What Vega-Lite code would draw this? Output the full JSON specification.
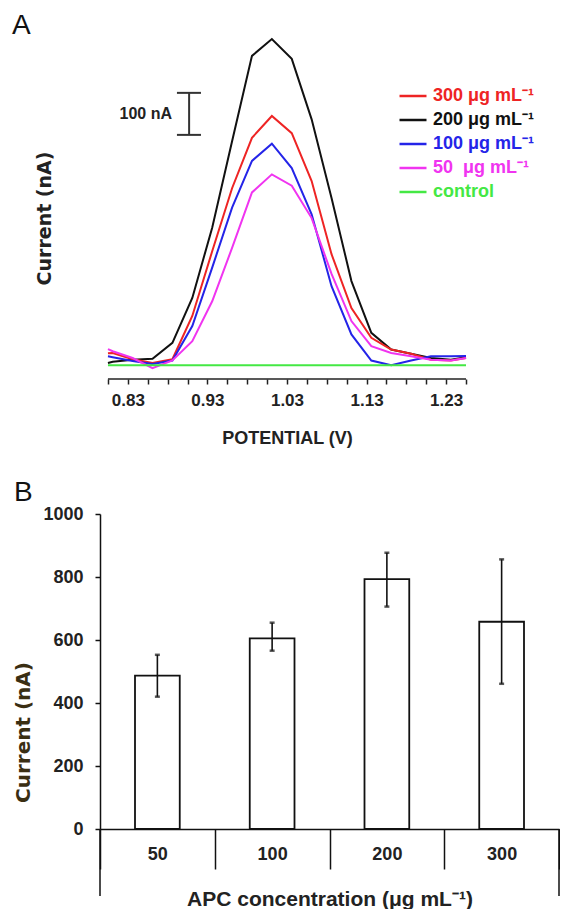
{
  "$schema": "https://vega.github.io/schema/vega-lite/v6.json",
  "background": "white",
  "padding": {"left": 12, "top": 12, "right": 0, "bottom": 0},
  "spacing": 32,
  "config": {
    "view": {"stroke": null},
    "font": "Liberation Sans",
    "axis": {"labelFont": "Liberation Sans", "titleFont": "Liberation Sans", "labelColor": "#222222", "titleColor": "#222222"}
  },
  "datasets": {
    "curves": [
      {"series": "200 μg mL⁻¹", "V": 0.805, "I": 5}, {"series": "200 μg mL⁻¹", "V": 0.811, "I": 8}, {"series": "200 μg mL⁻¹", "V": 0.836, "I": 13}, {"series": "200 μg mL⁻¹", "V": 0.861, "I": 15}, {"series": "200 μg mL⁻¹", "V": 0.886, "I": 53}, {"series": "200 μg mL⁻¹", "V": 0.911, "I": 160}, {"series": "200 μg mL⁻¹", "V": 0.936, "I": 327}, {"series": "200 μg mL⁻¹", "V": 0.961, "I": 533}, {"series": "200 μg mL⁻¹", "V": 0.986, "I": 736}, {"series": "200 μg mL⁻¹", "V": 1.011, "I": 776}, {"series": "200 μg mL⁻¹", "V": 1.036, "I": 729}, {"series": "200 μg mL⁻¹", "V": 1.061, "I": 585}, {"series": "200 μg mL⁻¹", "V": 1.086, "I": 398}, {"series": "200 μg mL⁻¹", "V": 1.111, "I": 200}, {"series": "200 μg mL⁻¹", "V": 1.136, "I": 77}, {"series": "200 μg mL⁻¹", "V": 1.161, "I": 37}, {"series": "200 μg mL⁻¹", "V": 1.186, "I": 27}, {"series": "200 μg mL⁻¹", "V": 1.211, "I": 17}, {"series": "200 μg mL⁻¹", "V": 1.236, "I": 13}, {"series": "200 μg mL⁻¹", "V": 1.255, "I": 19},
      {"series": "300 μg mL⁻¹", "V": 0.805, "I": 28}, {"series": "300 μg mL⁻¹", "V": 0.811, "I": 29}, {"series": "300 μg mL⁻¹", "V": 0.836, "I": 14}, {"series": "300 μg mL⁻¹", "V": 0.861, "I": 5}, {"series": "300 μg mL⁻¹", "V": 0.886, "I": 14}, {"series": "300 μg mL⁻¹", "V": 0.911, "I": 117}, {"series": "300 μg mL⁻¹", "V": 0.936, "I": 271}, {"series": "300 μg mL⁻¹", "V": 0.961, "I": 421}, {"series": "300 μg mL⁻¹", "V": 0.986, "I": 541}, {"series": "300 μg mL⁻¹", "V": 1.011, "I": 593}, {"series": "300 μg mL⁻¹", "V": 1.036, "I": 552}, {"series": "300 μg mL⁻¹", "V": 1.061, "I": 438}, {"series": "300 μg mL⁻¹", "V": 1.086, "I": 264}, {"series": "300 μg mL⁻¹", "V": 1.111, "I": 136}, {"series": "300 μg mL⁻¹", "V": 1.136, "I": 65}, {"series": "300 μg mL⁻¹", "V": 1.161, "I": 37}, {"series": "300 μg mL⁻¹", "V": 1.186, "I": 27}, {"series": "300 μg mL⁻¹", "V": 1.211, "I": 13}, {"series": "300 μg mL⁻¹", "V": 1.236, "I": 11}, {"series": "300 μg mL⁻¹", "V": 1.255, "I": 17},
      {"series": "100 μg mL⁻¹", "V": 0.805, "I": 21}, {"series": "100 μg mL⁻¹", "V": 0.811, "I": 19}, {"series": "100 μg mL⁻¹", "V": 0.836, "I": 10}, {"series": "100 μg mL⁻¹", "V": 0.861, "I": 3}, {"series": "100 μg mL⁻¹", "V": 0.886, "I": 11}, {"series": "100 μg mL⁻¹", "V": 0.911, "I": 93}, {"series": "100 μg mL⁻¹", "V": 0.936, "I": 232}, {"series": "100 μg mL⁻¹", "V": 0.961, "I": 375}, {"series": "100 μg mL⁻¹", "V": 0.986, "I": 486}, {"series": "100 μg mL⁻¹", "V": 1.011, "I": 527}, {"series": "100 μg mL⁻¹", "V": 1.036, "I": 469}, {"series": "100 μg mL⁻¹", "V": 1.061, "I": 359}, {"series": "100 μg mL⁻¹", "V": 1.086, "I": 188}, {"series": "100 μg mL⁻¹", "V": 1.111, "I": 73}, {"series": "100 μg mL⁻¹", "V": 1.136, "I": 11}, {"series": "100 μg mL⁻¹", "V": 1.161, "I": 0}, {"series": "100 μg mL⁻¹", "V": 1.186, "I": 11}, {"series": "100 μg mL⁻¹", "V": 1.211, "I": 21}, {"series": "100 μg mL⁻¹", "V": 1.236, "I": 21}, {"series": "100 μg mL⁻¹", "V": 1.255, "I": 22},
      {"series": "50\u00a0 μg mL⁻¹", "V": 0.805, "I": 38}, {"series": "50\u00a0 μg mL⁻¹", "V": 0.811, "I": 33}, {"series": "50\u00a0 μg mL⁻¹", "V": 0.836, "I": 17}, {"series": "50\u00a0 μg mL⁻¹", "V": 0.861, "I": -7}, {"series": "50\u00a0 μg mL⁻¹", "V": 0.886, "I": 11}, {"series": "50\u00a0 μg mL⁻¹", "V": 0.911, "I": 57}, {"series": "50\u00a0 μg mL⁻¹", "V": 0.936, "I": 152}, {"series": "50\u00a0 μg mL⁻¹", "V": 0.961, "I": 279}, {"series": "50\u00a0 μg mL⁻¹", "V": 0.986, "I": 411}, {"series": "50\u00a0 μg mL⁻¹", "V": 1.011, "I": 454}, {"series": "50\u00a0 μg mL⁻¹", "V": 1.036, "I": 427}, {"series": "50\u00a0 μg mL⁻¹", "V": 1.061, "I": 350}, {"series": "50\u00a0 μg mL⁻¹", "V": 1.086, "I": 217}, {"series": "50\u00a0 μg mL⁻¹", "V": 1.111, "I": 105}, {"series": "50\u00a0 μg mL⁻¹", "V": 1.136, "I": 45}, {"series": "50\u00a0 μg mL⁻¹", "V": 1.161, "I": 29}, {"series": "50\u00a0 μg mL⁻¹", "V": 1.186, "I": 21}, {"series": "50\u00a0 μg mL⁻¹", "V": 1.211, "I": 13}, {"series": "50\u00a0 μg mL⁻¹", "V": 1.236, "I": 11}, {"series": "50\u00a0 μg mL⁻¹", "V": 1.255, "I": 17},
      {"series": "control", "V": 0.805, "I": 0}, {"series": "control", "V": 0.811, "I": 0}, {"series": "control", "V": 0.836, "I": 0}, {"series": "control", "V": 0.861, "I": 0}, {"series": "control", "V": 0.886, "I": 0}, {"series": "control", "V": 0.911, "I": 0}, {"series": "control", "V": 0.936, "I": 0}, {"series": "control", "V": 0.961, "I": 0}, {"series": "control", "V": 0.986, "I": 0}, {"series": "control", "V": 1.011, "I": 0}, {"series": "control", "V": 1.036, "I": 0}, {"series": "control", "V": 1.061, "I": 0}, {"series": "control", "V": 1.086, "I": 0}, {"series": "control", "V": 1.111, "I": 0}, {"series": "control", "V": 1.136, "I": 0}, {"series": "control", "V": 1.161, "I": 0}, {"series": "control", "V": 1.186, "I": 0}, {"series": "control", "V": 1.211, "I": 0}, {"series": "control", "V": 1.236, "I": 0}, {"series": "control", "V": 1.255, "I": 0}
    ],
    "bars": [
      {"conc": "50", "mean": 487, "lo": 420, "hi": 553},
      {"conc": "100", "mean": 605, "lo": 566, "hi": 655},
      {"conc": "200", "mean": 793, "lo": 706, "hi": 877},
      {"conc": "300", "mean": 658, "lo": 461, "hi": 856}
    ],
    "scalebar": [{"I": 548}, {"I": 648}]
  },
  "vconcat": [
    {
      "width": 366,
      "height": 350,
      "title": {"text": "A", "anchor": "start", "frame": "group", "dx": -88, "offset": -33, "fontSize": 28, "fontWeight": "normal", "font": "Liberation Sans", "color": "#111111", "baseline": "alphabetic"},
      "layer": [
        {
          "data": {"name": "curves"},
          "mark": {"type": "line", "strokeWidth": 2},
          "encoding": {
            "x": {
              "field": "V", "type": "quantitative",
              "scale": {"domain": [0.795, 1.255], "nice": false, "zero": false},
              "axis": {
                "title": "POTENTIAL (V)",
                "values": [0.805, 0.83, 0.855, 0.88, 0.905, 0.93, 0.955, 0.98, 1.005, 1.03, 1.055, 1.08, 1.105, 1.13, 1.155, 1.18, 1.205, 1.23, 1.255],
                "tickCount": 40,
                "labelExpr": "indexof(['0.83','0.93','1.03','1.13','1.23'], format(datum.value, '.2f')) >= 0 ? format(datum.value, '.2f') : ''",
                "labelOverlap": false, "labelFlush": false,
                "domain": false, "grid": false,
                "ticks": true, "tickSize": 5, "tickColor": "#222222", "tickWidth": 1.5,
                "labelFontSize": 17, "labelFontWeight": "bold", "labelPadding": 8,
                "titleFontSize": 18, "titleFontWeight": "bold", "titleX": 187, "titleY": 59, "titleBaseline": "middle"
              }
            },
            "y": {
              "field": "I", "type": "quantitative",
              "scale": {"domain": [-33, 800], "nice": false, "zero": false},
              "axis": {
                "title": "Current (nA)", "domain": false, "ticks": false, "labels": false, "grid": false,
                "titleFont": "DejaVu Sans", "titleFontSize": 19, "titleFontWeight": "bold",
                "titleX": -56, "titleY": 189, "titleBaseline": "middle"
              }
            },
            "color": {
              "field": "series", "type": "nominal",
              "scale": {
                "domain": ["300 μg mL⁻¹", "200 μg mL⁻¹", "100 μg mL⁻¹", "50\u00a0 μg mL⁻¹", "control"],
                "range": ["#ee2424", "#111111", "#2424e8", "#f034f0", "#44e844"]
              },
              "legend": {
                "orient": "none", "legendX": 298, "legendY": 52, "title": null, "padding": 0,
                "symbolType": "stroke", "symbolSize": 729, "symbolStrokeWidth": 2.5,
                "labelFont": "Liberation Sans", "labelFontSize": 18, "labelFontWeight": "bold",
                "labelOffset": 5, "rowPadding": -10.5, "labelLimit": 300,
                "encode": {"labels": {"update": {"fill": {"scale": "color", "field": "value"}}}}
              }
            },
            "strokeWidth": {
              "condition": {"test": "datum.series === 'control'", "value": 3},
              "value": 2
            }
          }
        },
        {
          "data": {"values": [{}]},
          "mark": {"type": "rule", "strokeWidth": 1.5, "color": "#222222"},
          "encoding": {"x": {"datum": 0.805}, "x2": {"datum": 1.255}, "y": {"datum": -33}}
        },
        {
          "data": {"values": [{}]},
          "mark": {"type": "rule", "strokeWidth": 2, "color": "#333333"},
          "encoding": {"x": {"datum": 0.907}, "y": {"datum": 548}, "y2": {"datum": 648}}
        },
        {
          "data": {"name": "scalebar"},
          "mark": {"type": "rule", "strokeWidth": 2, "color": "#333333"},
          "encoding": {"x": {"datum": 0.8917}, "x2": {"datum": 0.9219}, "y": {"field": "I", "type": "quantitative"}}
        },
        {
          "data": {"values": [{}]},
          "mark": {"type": "text", "align": "right", "baseline": "middle", "fontSize": 16, "fontWeight": "bold", "font": "Liberation Sans", "color": "#222222"},
          "encoding": {"x": {"datum": 0.8855}, "y": {"datum": 598}, "text": {"value": "100 nA"}}
        }
      ]
    },
    {
      "width": 459,
      "height": 315,
      "title": {"text": "B", "anchor": "start", "frame": "group", "dx": -86, "offset": -24, "fontSize": 28, "fontWeight": "normal", "font": "Liberation Sans", "color": "#111111", "baseline": "alphabetic"},
      "data": {"name": "bars"},
      "layer": [
        {
          "mark": {"type": "bar", "fill": "white", "stroke": "#111111", "strokeWidth": 1.8, "width": {"band": 0.39}},
          "encoding": {
            "x": {
              "field": "conc", "type": "ordinal", "sort": ["50", "100", "200", "300"],
              "scale": {"paddingInner": 0, "paddingOuter": 0},
              "axis": {
                "title": "APC concentration (μg mL⁻¹)", "labelAngle": 0,
                "domain": true, "domainColor": "#111111", "domainWidth": 1.5,
                "ticks": true, "tickBand": "extent", "tickSize": 40, "tickColor": "#111111", "tickWidth": 1.5,
                "labelFontSize": 18, "labelFontWeight": "bold", "labelPadding": -24,
                "titleFontSize": 21, "titleFontWeight": "bold", "titleY": 70, "titleBaseline": "middle"
              }
            },
            "y": {
              "field": "mean", "type": "quantitative", "title": "Current (nA)",
              "scale": {"domain": [0, 1000], "nice": false},
              "axis": {
                "values": [0, 200, 400, 600, 800, 1000], "format": "d",
                "domain": true, "domainColor": "#111111", "domainWidth": 1.5,
                "ticks": true, "tickSize": 5, "tickColor": "#111111", "tickWidth": 1.5, "grid": false,
                "labelFontSize": 18, "labelFontWeight": "bold", "labelPadding": 12,
                "title": "Current (nA)", "titleFont": "DejaVu Sans", "titleFontSize": 20, "titleFontWeight": "bold",
                "titleColor": "#3a2e12", "titleX": -77, "titleY": 218, "titleBaseline": "middle"
              }
            }
          }
        },
        {
          "mark": {"type": "errorbar", "ticks": {"size": 5, "thickness": 2.5, "color": "#111111"}, "rule": {"strokeWidth": 1.6, "color": "#111111"}},
          "encoding": {
            "x": {"field": "conc", "type": "ordinal", "sort": ["50", "100", "200", "300"]},
            "y": {"field": "lo", "type": "quantitative", "title": "Current (nA)"},
            "y2": {"field": "hi"}
          }
        },
        {
          "data": {"values": [{}]},
          "mark": {"type": "rule", "strokeWidth": 1.5, "color": "#111111"},
          "encoding": {"x": {"datum": "50", "type": "ordinal", "bandPosition": 0}, "y": {"datum": 0}, "y2": {"datum": -213}}
        },
        {
          "data": {"values": [{}]},
          "mark": {"type": "rule", "strokeWidth": 1.5, "color": "#111111"},
          "encoding": {"x": {"datum": "300", "type": "ordinal", "bandPosition": 1}, "y": {"datum": 0}, "y2": {"datum": -213}}
        }
      ]
    }
  ]
}
